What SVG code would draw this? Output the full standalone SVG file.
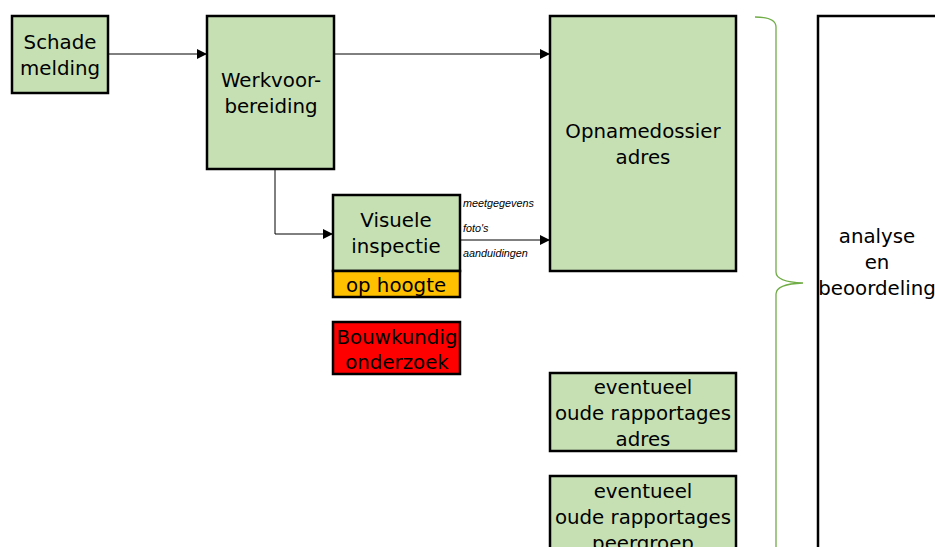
<svg xmlns="http://www.w3.org/2000/svg" width="935" height="547" viewBox="0 0 935 547">
<defs>
<marker id="arr" viewBox="0 0 10 10" refX="10" refY="5" markerWidth="10" markerHeight="10" markerUnits="userSpaceOnUse" orient="auto">
<path d="M0,0 L10,5 L0,10 z" fill="#000"/>
</marker>
<style>
.box{stroke:#000;stroke-width:2.5}
.g{fill:#c6e0b4}
.t{font-family:"DejaVu Sans",Verdana,sans-serif;font-size:19.8px;fill:#000;text-anchor:middle}
.s{font-family:"Liberation Sans",Arial,sans-serif;font-size:10.8px;font-style:italic;fill:#000}
.c{stroke:#000;stroke-width:1;fill:none}
</style>
</defs>
<rect width="935" height="547" fill="#fff"/>
<g id="connectors">
<path class="c" d="M108,54 H207" marker-end="url(#arr)"/>
<path class="c" d="M334,54 H550" marker-end="url(#arr)"/>
<path class="c" d="M275,169 V234 H333" marker-end="url(#arr)"/>
<path class="c" d="M460,240 H550" marker-end="url(#arr)"/>
<text class="s" x="463" y="207">meetgegevens</text>
<text class="s" x="463" y="232">foto's</text>
<text class="s" x="463" y="257">aanduidingen</text>
</g>
<g id="schade">
<rect class="box g" x="12" y="16" width="96" height="77"/>
<text class="t" x="60" y="49">Schade</text>
<text class="t" x="60" y="75">melding</text>
</g>
<g id="werkvoorbereiding">
<rect class="box g" x="207" y="16" width="127" height="153"/>
<text class="t" x="271" y="87">Werkvoor-</text>
<text class="t" x="271" y="113">bereiding</text>
</g>
<g id="visuele">
<rect class="box g" x="333" y="195" width="127" height="76"/>
<text class="t" x="396" y="227">Visuele</text>
<text class="t" x="396" y="253">inspectie</text>
</g>
<g id="ophoogte">
<rect class="box" fill="#ffc000" x="333" y="271" width="127" height="26"/>
<text class="t" x="396" y="292">op hoogte</text>
</g>
<g id="bouwkundig">
<rect class="box" fill="#ff0000" x="333" y="322" width="127" height="52"/>
<text class="t" x="397" y="344">Bouwkundig</text>
<text class="t" x="397" y="369">onderzoek</text>
</g>
<g id="opnamedossier">
<rect class="box g" x="550" y="16" width="186" height="255"/>
<text class="t" x="643" y="138">Opnamedossier</text>
<text class="t" x="643" y="164">adres</text>
</g>
<g id="oude-adres">
<rect class="box g" x="550" y="373" width="186" height="78"/>
<text class="t" x="643" y="394">eventueel</text>
<text class="t" x="643" y="420">oude rapportages</text>
<text class="t" x="643" y="446">adres</text>
</g>
<g id="oude-peergroep">
<rect class="box g" x="550" y="476" width="186" height="90"/>
<text class="t" x="643" y="498">eventueel</text>
<text class="t" x="643" y="524">oude rapportages</text>
<text class="t" x="643" y="550">peergroep</text>
</g>
<g id="brace">
<path d="M755,17 Q776,17 776,27 V272 Q776,282 803,283 Q776,284 776,294 V547" fill="none" stroke="#70ad47" stroke-width="1.3"/>
</g>
<g id="analyse">
<rect x="818" y="16" width="140" height="560" fill="#fff" stroke="#000" stroke-width="2.5"/>
<text class="t" x="877" y="243">analyse</text>
<text class="t" x="877" y="269">en</text>
<text class="t" x="877" y="295">beoordeling</text>
</g>
</svg>
